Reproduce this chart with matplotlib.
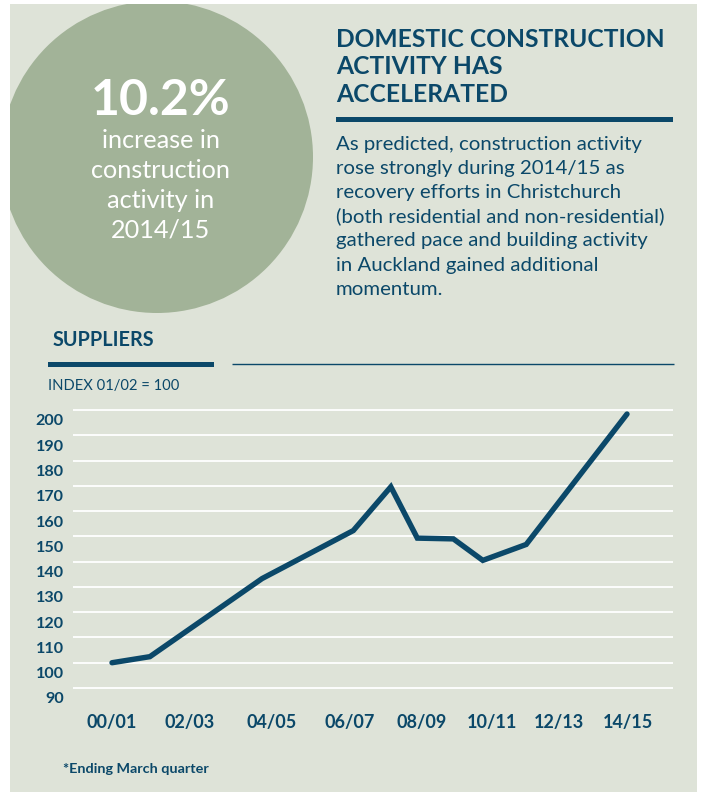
import matplotlib
matplotlib.use("Agg")
import matplotlib.pyplot as plt
from matplotlib.patches import Rectangle, Circle
from matplotlib.transforms import ScaledTranslation

# ---- data ----
x_pos = [0.0, 1.03, 4.08, 6.56, 7.58, 8.30, 9.28, 10.08, 11.26, 14.0]
index_values = [100.0, 102.4, 133.3, 152.3, 169.6, 149.3, 149.0, 140.5, 146.8, 198.4]
tick_pos = [0.0, 2.12, 4.35, 6.47, 8.43, 10.33, 12.15, 14.03]
tick_labels = ["00/01", "02/03", "04/05", "06/07", "08/09", "10/11", "12/13", "14/15"]
y_ticks = [90, 100, 110, 120, 130, 140, 150, 160, 170, 180, 190, 200]

headline_value = "10.2%"
headline_lines = ["increase in", "construction", "activity in", "2014/15"]
title_lines = ["DOMESTIC CONSTRUCTION", "ACTIVITY HAS", "ACCELERATED"]
para_lines = [
    "As predicted, construction activity",
    "rose strongly during 2014/15 as",
    "recovery efforts in Christchurch",
    "(both residential and non-residential)",
    "gathered pace and building activity",
    "in Auckland gained additional",
    "momentum.",
]

# ---- style ----
W, H = 704, 792
BG = "#dee3d8"
CIRCLE = "#a2b398"
BLUE = "#0b4869"
FONT = ["Lato", "DejaVu Sans"]
plt.rcParams["font.family"] = FONT

fig = plt.figure(figsize=(W / 100, H / 100), dpi=100)
fig.patch.set_facecolor("white")

bg = fig.add_axes([0, 0, 1, 1])
bg.set_xlim(0, W)
bg.set_ylim(H, 0)
bg.axis("off")

panel = Rectangle((10, 4), 687, 790, facecolor=BG, edgecolor="none", zorder=0)
bg.add_patch(panel)
circ = Circle((157, 157), 156, facecolor=CIRCLE, edgecolor="none", zorder=1)
bg.add_patch(circ)
circ.set_clip_path(panel)

# circle text
bg.text(161, 115, headline_value, color="white", fontsize=36, fontweight="bold",
        ha="center", va="baseline", zorder=2)
for i, line in enumerate(headline_lines):
    bg.text(161, 148.5 + i * 29.5, line, color="white", fontsize=18.2,
            ha="center", va="baseline", zorder=2)

# title
for i, line in enumerate(title_lines):
    bg.text(336, 46.7 + i * 27.5, line, color=BLUE, fontsize=17.7, fontweight="bold",
            ha="left", va="baseline")
bg.add_patch(Rectangle((336, 116.8), 337, 5, facecolor=BLUE, edgecolor="none"))

for i, line in enumerate(para_lines):
    bg.text(336, 150 + i * 24.1, line, color=BLUE, fontsize=14.7,
            ha="left", va="baseline")

# suppliers header
bg.text(52.7, 345.7, "SUPPLIERS", color=BLUE, fontsize=14.3, fontweight="bold",
        ha="left", va="baseline")
bg.add_patch(Rectangle((48.3, 361.8), 165.4, 5, facecolor=BLUE, edgecolor="none"))
bg.plot([232.3, 674], [364.3, 364.3], color=BLUE, lw=1.0, solid_capstyle="butt")
bg.text(48.3, 390, "INDEX 01/02 = 100", color=BLUE, fontsize=10.6,
        ha="left", va="baseline")

bg.text(63.3, 773.3, "*Ending March quarter", color=BLUE, fontsize=10.4, fontweight="bold",
        ha="left", va="baseline")

# ---- chart ----
px_per_y = (688 - 410) / 110.0
y_lo, y_hi = 88, 202
top_px = 410 - (y_hi - 200) * px_per_y
bot_px = 688 + (90 - y_lo) * px_per_y
px_per_x = (627 - 112) / 14.0
x_lo = (73 - 112) / px_per_x
x_hi = (673 - 112) / px_per_x

ax = fig.add_axes([73 / W, 1 - bot_px / H, 600 / W, (bot_px - top_px) / H])
ax.set_facecolor("none")
ax.set_xlim(x_lo, x_hi)
ax.set_ylim(y_lo, y_hi)
for s in ax.spines.values():
    s.set_visible(False)
ax.set_yticks(y_ticks)
ax.set_yticklabels([str(v) for v in y_ticks])
ax.set_xticks(tick_pos)
ax.set_xticklabels(tick_labels)
ax.tick_params(axis="both", length=0, colors=BLUE)
ax.tick_params(axis="y", pad=6.5, labelsize=11.6)
ax.tick_params(axis="x", pad=15, labelsize=13)
for lab in ax.get_yticklabels() + ax.get_xticklabels():
    lab.set_fontweight("bold")
    lab.set_color(BLUE)
off = ScaledTranslation(0, -10 / 100, fig.dpi_scale_trans)
for lab in ax.get_yticklabels():
    lab.set_transform(lab.get_transform() + off)
ax.grid(axis="y", color="white", lw=1.3)
ax.grid(axis="x", visible=False)
ax.set_axisbelow(True)

ax.plot(x_pos, index_values, color=BLUE, lw=3.9, solid_joinstyle="miter",
        solid_capstyle="round", zorder=3)

fig.savefig("out.png", dpi=100, facecolor="white")
